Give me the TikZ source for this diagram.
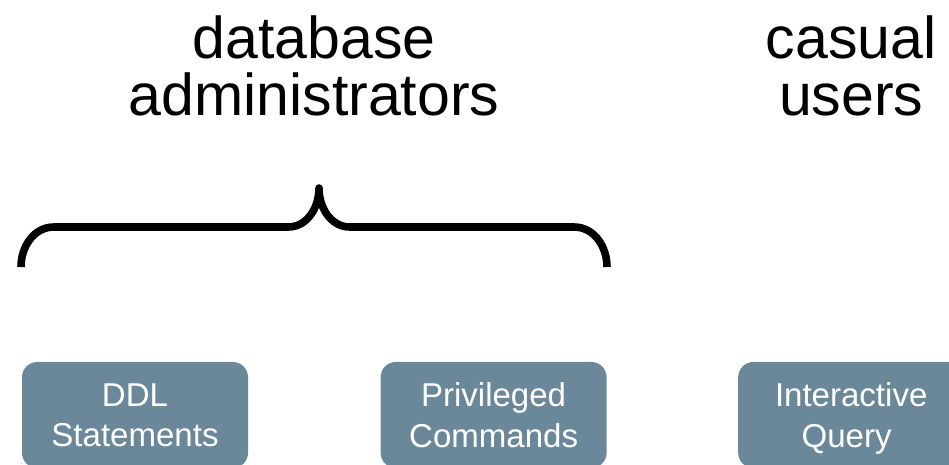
\documentclass[tikz,border=0pt]{standalone}
\usepackage{fontspec}
\setmainfont{Liberation Sans}
\usepackage{xcolor}
\usepackage{tikz}
\usetikzlibrary{positioning}
\usetikzlibrary{calc}

\definecolor{boxgray}{HTML}{6B889A}
\tikzset{
  cmdbox/.style={fill=boxgray, text=white, rounded corners=0.38cm, minimum width=5.65cm,
    minimum height=2.65cm, align=center, inner sep=0pt,
    font=\fontsize{23.5}{28.5}\selectfont},
  usertitle/.style={align=center, inner sep=0pt, anchor=north,
    font=\fontsize{42}{41}\selectfont},
}

\begin{document}
\begin{tikzpicture}[scale=1.]
 \useasboundingbox (0,0) rectangle (23.725,11.6);
 \clip (0,0) rectangle (23.725,11.6);

 %users
 \node[usertitle] (dba) at (7.85, 11.22) {database\\administrators};
 \node[usertitle] (casual) at (21.28, 11.22) {casual\\users};

 %brace
 \draw[line width=5.4pt, line join=round]
   (0.525,4.925) to [out=90,in=180] (1.35,5.925) -- (7.2,5.925)
   to [out=0,in=-90] (7.975,6.9) to [out=-90,in=180] (8.75,5.925)
   -- (14.35,5.925) to [out=0,in=90] (15.175,4.925);

 %commands
 \foreach \x/\name/\upper/\lower in { 3.375/ddl/DDL/Statements, 12.34/priv/Privileged/Commands, 21.28/query/Interactive/Query } {
   \node[cmdbox] (\name) at (\x, 1.225) {\upper\\\raisebox{0pt}[\height][0pt]{\lower}};
 }

\end{tikzpicture}
\end{document}
